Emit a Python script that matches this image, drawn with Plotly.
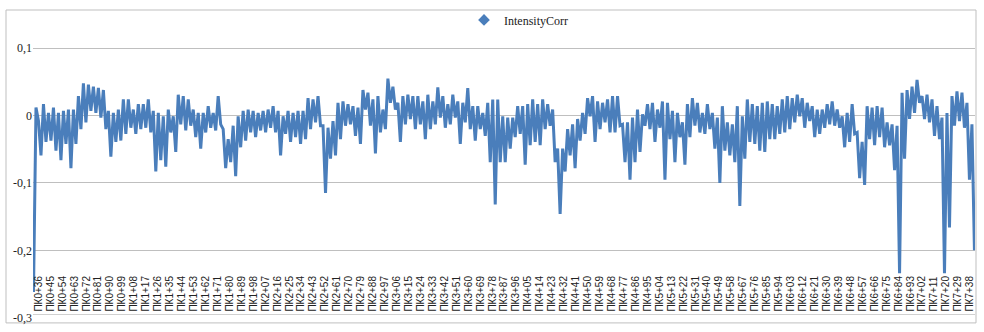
import plotly.graph_objects as go

# Station (chainage) of the first reading and spacing between readings, metres
STATION_START_M = 32.23
STATION_STEP_M = 1.881

# IntensityCorr readings (left to right)
values_a = [
    -0.262, 0.012, -0.008, -0.059, 0.017, -0.039, 0.004, -0.037, 0.012, -0.052,
    0.004, -0.066, 0.007, -0.042, 0.009, -0.078, 0.009, -0.042, 0.029, -0.020,
    0.048, -0.010, 0.046, 0.007, 0.043, 0.004, 0.041, -0.003, 0.038, -0.020,
    0.007, -0.061, 0.004, -0.039, 0.009, -0.037, 0.024, -0.027, 0.024, -0.018,
    0.009, -0.027, 0.017, -0.020, 0.017, -0.018, 0.024, -0.025, 0.007, -0.083,
    0.004, -0.066, -0.001, -0.076, 0.009, -0.025, -0.001, -0.054, 0.031, -0.013,
    0.029, -0.022, 0.024, -0.015, 0.009, -0.032, 0.004, -0.049, 0.004, -0.025,
    0.014, -0.018, 0.004, -0.022, 0.029, -0.013, -0.020, -0.078, -0.035, -0.069,
    -0.015, -0.090, -0.001, -0.047, 0.007, -0.037, 0.009, -0.025, 0.007, -0.032,
    0.004, -0.022, 0.007, -0.025, 0.009, -0.018,
]
values_b = [
    0.014, -0.025, 0.007, -0.059, -0.001, -0.027, 0.007, -0.039, 0.004, -0.032,
    0.007, -0.042, 0.007, -0.035, 0.026, -0.020, 0.024, -0.010, 0.029, -0.015,
    -0.015, -0.115, -0.018, -0.064, -0.008, -0.059, 0.019, -0.035, 0.021, -0.015,
    0.017, -0.013, 0.014, -0.030, 0.012, -0.042, 0.038, 0.009, 0.034, -0.015,
    0.024, -0.056, 0.029, -0.025, 0.009, -0.020, 0.055, 0.019, 0.043, 0.009,
    0.019, -0.039, 0.029, -0.013, 0.031, -0.005, 0.029, -0.020, 0.029, -0.013,
    0.021, -0.035, 0.031, -0.020, 0.021, -0.013, 0.042, -0.003, 0.029, -0.018,
    0.017, -0.013, 0.031, -0.003, 0.021, -0.042, 0.019, -0.010, 0.041, -0.020,
    0.014, -0.037, 0.014, -0.020, 0.004, -0.030, 0.019, -0.069, 0.024, -0.132,
    0.024, -0.069,
]
values_c = [
    -0.001, -0.069, -0.003, -0.049, -0.003, -0.032, 0.014, -0.027, 0.014, -0.073,
    0.017, -0.044, 0.024, -0.039, 0.017, -0.044, 0.024, -0.020, 0.017, -0.015,
    0.009, -0.069, -0.049, -0.146, -0.049, -0.083, -0.020, -0.059, -0.013, -0.078,
    -0.005, -0.037, 0.004, -0.027, 0.026, -0.001, 0.029, -0.039, 0.021, -0.020,
    0.019, -0.010, 0.024, -0.025, 0.029, -0.025, 0.029, -0.015, -0.013, -0.069,
    -0.010, -0.095, -0.003, -0.069, 0.009, -0.054, 0.002, -0.015, 0.017, -0.020,
    0.019, -0.039, 0.009, -0.018, 0.021, -0.095, 0.019, -0.035, 0.007, -0.069,
    0.004, -0.032, -0.010, -0.073, 0.017, -0.032, 0.026, -0.015, 0.019, -0.025,
    0.004, -0.027, 0.017, -0.020, 0.004, -0.049, -0.003, -0.100, 0.014, -0.052,
    -0.010, -0.059, -0.013, -0.069, 0.014, -0.134,
]
values_d = [
    -0.001, -0.064, 0.024, -0.039, 0.017, -0.042, 0.014, -0.052, 0.019, -0.054,
    0.021, -0.035, 0.017, -0.035, 0.014, -0.027, 0.024, -0.025, 0.029, -0.020,
    0.026, -0.010, 0.031, -0.001, 0.026, -0.018, 0.019, -0.008, 0.014, -0.032,
    0.009, -0.027, 0.009, -0.018, 0.017, -0.013, 0.021, -0.015, 0.009, -0.018,
    -0.001, -0.047, 0.004, -0.039, 0.017, -0.027, -0.025, -0.093, -0.039, -0.103,
    0.014, -0.035, 0.012, -0.044, 0.014, -0.032, 0.012, -0.047, -0.010, -0.044,
    -0.013, -0.081, -0.015, -0.234, 0.034, -0.064, 0.038, -0.005, 0.043, 0.004,
    0.053, 0.019, 0.029, -0.005, 0.031, -0.010, 0.024, -0.030, 0.014, -0.035,
    -0.003, -0.234, 0.004, -0.166, 0.029, -0.015, 0.036, -0.008, 0.034, -0.018,
    0.019, -0.095, -0.013, -0.200,
]
intensity_corr = values_a + values_b + values_c + values_d
stations = [STATION_START_M + i * STATION_STEP_M for i in range(len(intensity_corr))]

# Category axis labels (every 9 m)
tick_stations = list(range(36, 739, 9))
tick_labels = [f"ПК{s // 100}+{s % 100:02d}" for s in tick_stations]

y_ticks = [-0.3, -0.2, -0.1, 0, 0.1]
y_tick_labels = ["-0,3", "-0,2", "-0,1", "0", "0,1"]

BLUE = "#4a7ebb"
GRID = "#bfbfbf"

fig = go.Figure()
fig.add_trace(go.Scatter(
    x=stations, y=intensity_corr, mode="lines",
    line=dict(color=BLUE, width=3), showlegend=False,
    name="IntensityCorr",
))
fig.add_trace(go.Scatter(
    x=[None], y=[None], mode="markers", name="IntensityCorr",
    marker=dict(symbol="diamond", size=9, color=BLUE),
))

W, H = 984, 332
L, R, T, B = 33, 9, 5, 14
pw, ph = W - L - R, H - T - B

fig.update_layout(
    width=W, height=H,
    margin=dict(l=L, r=R, t=T, b=B),
    paper_bgcolor="white", plot_bgcolor="white",
    showlegend=True,
    legend=dict(
        orientation="h", x=(464 - L) / pw, xanchor="left",
        y=1.015, yanchor="top",
        font=dict(family="Liberation Serif", size=12, color="#222"),
        bgcolor="rgba(0,0,0,0)",
    ),
    xaxis=dict(
        range=[31.86, 741.79], showgrid=False, zeroline=False,
        tickmode="array", tickvals=tick_stations, ticktext=tick_labels,
        tickangle=-90, ticks="", side="top",
        anchor="free", position=(H - B - 313.5) / ph,
        showline=True, linecolor="#d0d0d0", linewidth=1,
        tickfont=dict(family="Liberation Sans", size=10, color="#222"),
    ),
    yaxis=dict(
        range=[-0.3005, 0.1568], showgrid=True, gridcolor=GRID, gridwidth=1,
        zeroline=False, showline=False, ticks="",
        tickmode="array", tickvals=y_ticks, ticktext=y_tick_labels,
        tickfont=dict(family="Liberation Serif", size=12, color="#222"),
    ),
    shapes=[dict(
        type="rect", xref="paper", yref="paper",
        x0=(6 - L) / pw, x1=(976 - L) / pw,
        y0=(H - B - 323) / ph, y1=1.0,
        line=dict(color="#bfbfbf", width=1), layer="below",
    )],
)

fig.write_html("out.html")
